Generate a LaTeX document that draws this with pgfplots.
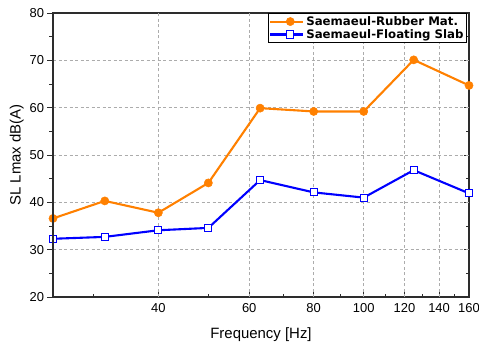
\documentclass[border=0pt]{standalone}
\usepackage{pgfplots}
\pgfplotsset{compat=1.18}
\usepackage{fontspec}
\setmainfont{Liberation Sans}
\newfontfamily\legfont{DejaVu Sans}
\definecolor{myorange}{RGB}{255,128,0}
\definecolor{myblue}{RGB}{0,0,255}
\definecolor{axgray}{RGB}{45,45,45}
\pgfplotsset{
  legend image code/.code={
    \path (-7bp,0bp) -- (0bp,0bp);
    \draw[mark repeat=2, mark phase=2, #1] plot coordinates {(0bp,0bp) (13bp,0bp) (26bp,0bp)};
  },
}
\begin{document}
\begin{tikzpicture}
\begin{axis}[
  scale only axis, width=416bp, height=284bp,
  xmode=log, xmin=25, xmax=160, ymin=20, ymax=80,
  /pgf/number format/assume math mode=true,
  tick style={axgray, line width=0.9bp},
  major tick length=5.5bp, minor tick length=3.5bp,
  axis line style={axgray, line width=1.4bp},
  tick align=inside,
  xtick pos=bottom, ytick pos=right,
  xtick={40,60,80,100,120,140,160},
  xticklabels={40,60,80,100,120,140,160},
  minor xtick={30,50,70,90,110,130,150},
  ytick={20,30,...,80}, minor ytick={25,35,...,75},
  yticklabels={},
  extra x ticks={40,60,80,100,120,140},
  extra x tick labels={},
  extra x tick style={grid=major, major tick length=0pt},
  extra y ticks={30,40,50,60,70},
  extra y tick labels={},
  extra y tick style={grid=major, major tick length=0pt},
  grid style={dash pattern=on 3bp off 2.5bp, gray!65, line width=0.7bp},
  ticklabel style={font=\fontsize{13}{15}\selectfont},
  xticklabel style={yshift=-3bp},
  xlabel={Frequency [Hz]},
  xlabel style={font=\fontsize{15}{18}\selectfont, yshift=-8bp},
  legend style={at={(rel axis cs:0.995,1.0)}, anchor=north east,
    font=\legfont\bfseries\fontsize{11.8}{13.5}\selectfont,
    draw=black, line width=0.7bp, inner sep=1bp, row sep=-1.5bp,
    fill=white},
  legend cell align=left,
]
\addplot[myorange, line width=2.1bp, mark=*, mark size=4.1bp,
  mark options={fill=myorange, draw=myorange, line width=0.5bp}]
  coordinates {(25,36.6) (31.5,40.3) (40,37.8) (50,44.1) (63,59.9) (80,59.2) (100,59.2) (125,70.1) (160,64.7)};
\addlegendentry{Saemaeul-Rubber Mat.}
\addplot[myblue, line width=2.1bp, mark=square*, mark size=3.6bp,
  mark options={fill=white, draw=myblue, line width=1bp}]
  coordinates {(25,32.3) (31.5,32.7) (40,34.1) (50,34.6) (63,44.7) (80,42.1) (100,41.0) (125,46.8) (160,41.9)};
\addlegendentry{Saemaeul-Floating Slab}
\end{axis}
\begin{axis}[
  scale only axis, width=416bp, height=284bp,
  xmin=0, xmax=1, ymin=20, ymax=80,
  /pgf/number format/assume math mode=true,
  tick style={axgray, line width=0.9bp},
  major tick length=5.5bp, minor tick length=3.5bp,
  tick align=outside,
  axis x line=none,
  axis y line*=left,
  axis line style={axgray, line width=1.4bp, -},
  ytick={20,30,...,80}, minor ytick={25,35,...,75},
  ticklabel style={font=\fontsize{13}{15}\selectfont},
  ylabel={SL Lmax dB(A)},
  ylabel style={font=\fontsize{15}{18}\selectfont, yshift=-1bp},
]
\end{axis}
\pgfresetboundingbox
\useasboundingbox (current axis.south west) ++(-53bp,-48bp) rectangle ++(479bp,345bp);
\end{tikzpicture}
\end{document}
